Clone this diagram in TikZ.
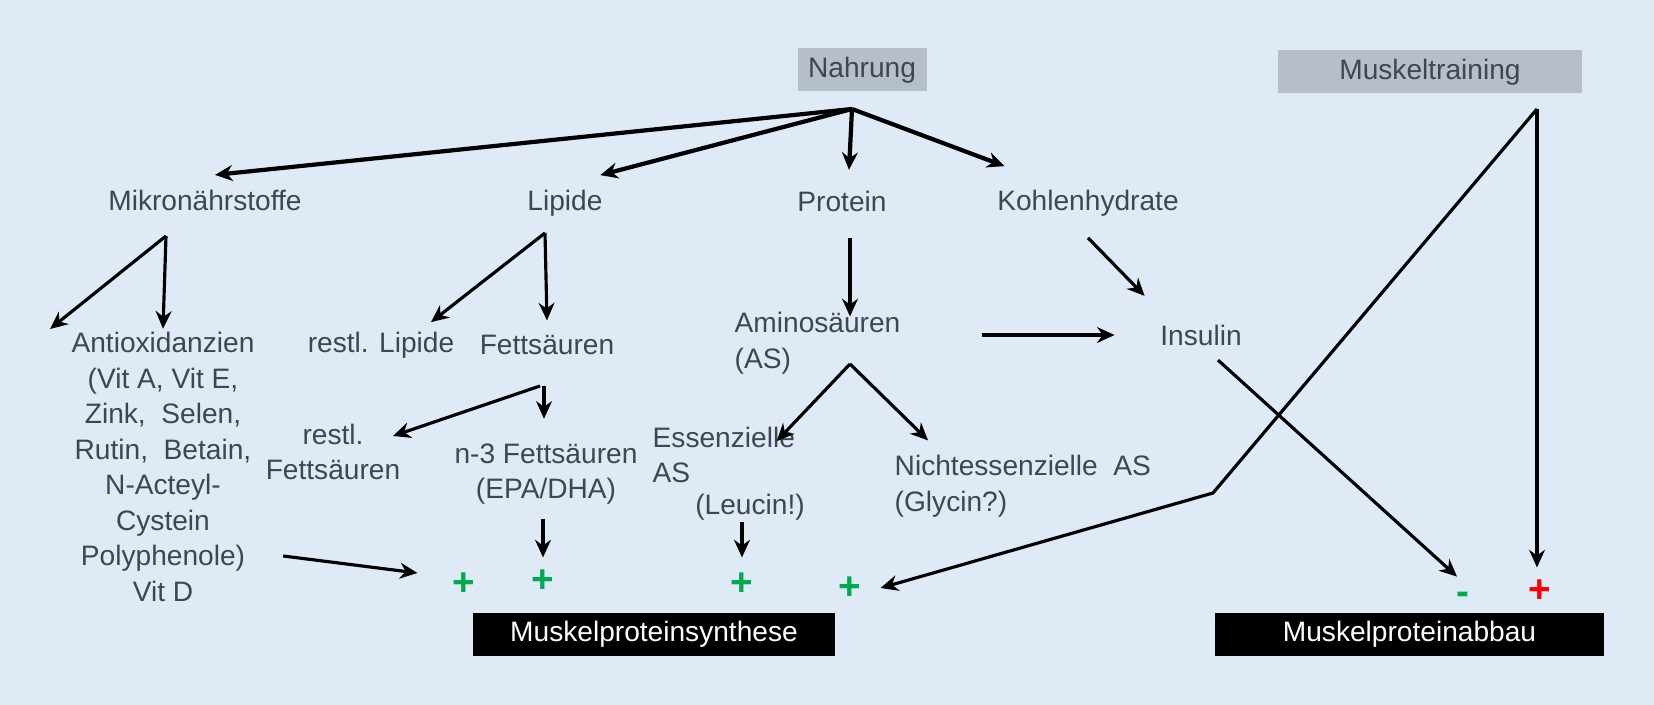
\documentclass[tikz,border=0pt]{standalone}
\usepackage{fontspec}
\setmainfont{Liberation Sans}
\usetikzlibrary{arrows.meta}
\definecolor{bgblue}{RGB}{222,235,247}
\definecolor{boxgray}{RGB}{181,190,201}
\definecolor{txtgray}{RGB}{62,70,86}
\definecolor{plusgreen}{RGB}{0,168,80}
\definecolor{plusred}{RGB}{255,0,0}

\begin{document}
\begin{tikzpicture}[font=\fontsize{8}{10.1}\selectfont,
      lbl/.style={text=txtgray, align=center, inner xsep=2pt, inner ysep=4pt},
      lbll/.style={lbl, align=left, anchor=west},
      hdr/.style={fill=boxgray, text=txtgray, inner sep=0pt, minimum height=0.43cm},
      res/.style={fill=black, text=white, inner sep=0pt, minimum height=0.43cm},
      sgn/.style={inner sep=1pt, font=\fontsize{11}{11}\selectfont\bfseries},
      arr/.style={-{Stealth[length=5pt,width=4.5pt]}, line width=0.9pt},
      arrb/.style={arr, line width=1.2pt}]
  \fill[bgblue] (0,0) rectangle (16.54,-7.05);
  \useasboundingbox (0,0) rectangle (16.54,-7.05);

  % sources
  \node[hdr, minimum width=1.29cm] (nahr) at (8.62,-0.70) {Nahrung};
  \node[hdr, minimum width=3.04cm] (mtr)  at (14.30,-0.72) {Muskeltraining};

  % nutrient groups
  \node[lbl] (mikro) at (2.05,-2.00) {Mikronährstoffe};
  \node[lbl] (lip)   at (5.65,-2.03) {Lipide};
  \node[lbl] (prot)  at (8.42,-2.01) {Protein};
  \node[lbl] (kh)    at (10.88,-2.03) {Kohlenhydrate};

  \node[lbl] (antiox) at (1.63,-4.67) {Antioxidanzien\\(Vit A, Vit E,\\Zink,\ \ Selen,\\Rutin,\ \ Betain,\\N-Acteyl-\\Cystein\\Polyphenole)\\Vit D};
  \node[lbl] (rl)  at (3.81,-3.45) {restl. Lipide};
  \node[lbl] (fs)  at (5.47,-3.45) {Fettsäuren};
  \node[lbl] (rfs) at (3.33,-4.52) {restl.\\Fettsäuren};
  \node[lbl] (n3)  at (5.46,-4.74) {n-3 Fettsäuren\\(EPA/DHA)};
  \node[lbll] (amino) at (7.27,-3.43) {Aminosäuren\\(AS)};
  \node[lbl] (ins) at (12.01,-3.35) {Insulin};
  \node[lbll] (ess)  at (6.45,-4.55) {Essenzielle\\AS};
  \node[lbl] (leu) at (7.50,-5.07) {(Leucin!)};
  \node[lbll] (ness) at (8.87,-4.86) {Nichtessenzielle\ \ AS\\(Glycin?)};

  % effects
  \node[sgn, text=plusgreen] (p1) at (4.64,-5.84) {+};
  \node[sgn, text=plusgreen] (p2) at (5.43,-5.81) {+};
  \node[sgn, text=plusgreen] (p3) at (7.42,-5.84) {+};
  \node[sgn, text=plusgreen] (p4) at (8.50,-5.88) {+};
  \node[sgn, text=plusgreen] (minus) at (14.63,-5.98) {-};
  \node[sgn, text=plusred]   (rplus) at (15.40,-5.91) {+};

  \node[res, minimum width=3.62cm] (synth) at (6.54,-6.345) {Muskelproteinsynthese};
  \node[res, minimum width=3.89cm] (abbau) at (14.095,-6.345) {Muskelproteinabbau};

  % branch points
  \coordinate (nhub)  at (8.52,-1.09);
  \coordinate (thub)  at (15.37,-1.09);
  \coordinate (tbend) at (12.13,-4.93);
  \coordinate (mhub)  at (1.66,-2.36);
  \coordinate (mleft) at (0.50,-3.29);
  \coordinate (lhub)  at (5.45,-2.33);
  \coordinate (fhub)  at (5.44,-3.86);
  \coordinate (ahub)  at (8.50,-3.64);

  % Nahrung
  \draw[arrb] (nhub) -- ([xshift=1mm]mikro.north);
  \draw[arrb] (nhub) -- ([xshift=-1mm]lip.north east);
  \draw[arrb] (nhub) -- ([xshift=0.7mm,yshift=0.6mm]prot.north);
  \draw[arrb] (nhub) -- ([xshift=1.5mm,yshift=0.9mm]kh.north west);

  % Mikronaehrstoffe
  \draw[arr] (mhub) -- (mleft);
  \draw[arr] (mhub) -- ([yshift=-1.1mm]antiox.north);
  \draw[arr] ([xshift=2.1mm,yshift=-8.9mm]antiox.east) -- ([xshift=-3.1mm,yshift=1.1mm]p1.west);

  % Lipide
  \draw[arr] (lhub) -- ([xshift=5mm,yshift=-0.5mm]rl.north);
  \draw[arr] (lhub) -- (fs.north);
  \draw[arr] ([xshift=-0.4mm]fhub) -- ([xshift=-1.5mm,yshift=1.6mm]rfs.east);
  \draw[arr] (fhub) -- ([yshift=1mm]fhub |- n3.north);
  \draw[arr] (n3.south -| p2) -- ([yshift=0.8mm]p2.north);

  % Protein
  \draw[arr] ([xshift=0.8mm,yshift=-1.2mm]prot.south) -- ([xshift=0.8mm,yshift=-1.9mm]prot.south |- amino.north);
  \draw[arr] ([xshift=7.4mm]amino.east |- ins.west) -- ([xshift=-3.8mm]ins.west);
  \draw[arr] (ahub) -- ([xshift=-2.6mm,yshift=-2.9mm]ess.north east);
  \draw[arr] (ahub) -- ([xshift=4.1mm]ness.north west);
  \draw[arr] ([yshift=1.3mm]leu.south -| p3) -- ([yshift=1.1mm]p3.north);

  % Kohlenhydrate, Insulin
  \draw[arr] ([yshift=-0.7mm]kh.south) -- ([xshift=-0.8mm,yshift=1.4mm]ins.north west);
  \draw[arr] ([xshift=1.7mm]ins.south) -- ([xshift=-0.6mm,yshift=1.1mm]minus.north);

  % Muskeltraining
  \draw[arr] (thub) -- ([yshift=0.8mm]thub |- rplus.north);
  \draw[arr] (thub) -- (tbend) -- ([xshift=1.5mm]p4.east);
\end{tikzpicture}
\end{document}
